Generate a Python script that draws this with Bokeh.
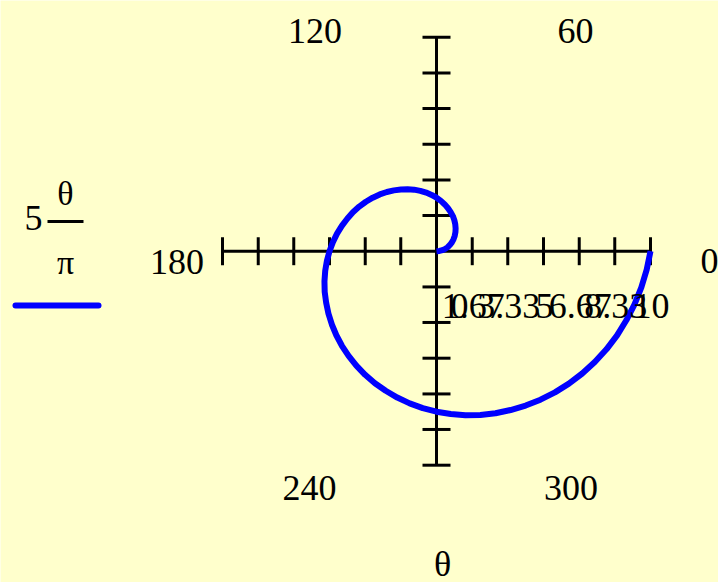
import math
from bokeh.plotting import figure
from bokeh.models import Range1d, ColumnDataSource
from bokeh.core.properties import value
from bokeh.embed import file_html
from bokeh.resources import INLINE

# ---- data: r = 5*theta/pi, theta 0..360 deg ----
theta_deg = list(range(0, 361, 5))
r_vals = [0.00, 0.14, 0.28, 0.42, 0.56, 0.69, 0.83, 0.97, 1.11, 1.25, 1.39, 1.53,
          1.67, 1.81, 1.94, 2.08, 2.22, 2.36, 2.50, 2.64, 2.78, 2.92, 3.06, 3.19,
          3.33, 3.47, 3.61, 3.75, 3.89, 4.03, 4.17, 4.31, 4.44, 4.58, 4.72, 4.86,
          5.00, 5.14, 5.28, 5.42, 5.56, 5.69, 5.83, 5.97, 6.11, 6.25, 6.39, 6.53,
          6.67, 6.81, 6.94, 7.08, 7.22, 7.36, 7.50, 7.64, 7.78, 7.92, 8.06, 8.19,
          8.33, 8.47, 8.61, 8.75, 8.89, 9.03, 9.17, 9.31, 9.44, 9.58, 9.72, 9.86,
          10.00]
r_ticks = [0, 1.67, 3.33, 5, 6.67, 8.33, 10]
r_tick_labels = ["0", "1.67", "3.33", "5", "6.67", "8.33", "10"]
angle_labels = ["0", "60", "120", "180", "240", "300"]
r_max = 10

# ---- layout ----
BG = "#FFFFCC"
W, H = 718, 582
CX, CY = 436.0, 250.7          # pixel of the origin
S = 21.4                       # pixels per radial unit


def px2x(px):
    return (px - CX) / S


def px2y(py):
    return (CY - py) / S


p = figure(width=W, height=H, output_backend="svg", toolbar_location=None,
           x_range=Range1d(px2x(0), px2x(W)),
           y_range=Range1d(px2y(H), px2y(0)),
           min_border=0, background_fill_color=BG, border_fill_color=BG,
           outline_line_color=None)
p.axis.visible = False
p.grid.visible = False

FONT = value("Liberation Serif")

# axes
p.segment(x0=[-r_max, 0], y0=[0, -r_max], x1=[r_max, 0], y1=[0, r_max],
          line_color="black", line_width=3, line_cap="butt")
half = 14 / S
tx0, ty0, tx1, ty1 = [], [], [], []
for r in r_ticks[1:]:
    for sgn in (-1, 1):
        tx0.append(sgn * r); ty0.append(-half); tx1.append(sgn * r); ty1.append(half)
        tx0.append(-half); ty0.append(sgn * r); tx1.append(half); ty1.append(sgn * r)
p.segment(x0=tx0, y0=ty0, x1=tx1, y1=ty1, line_color="black", line_width=3,
          line_cap="butt")

# spiral
xs = [r * math.cos(math.radians(t)) for t, r in zip(theta_deg, r_vals)]
ys = [r * math.sin(math.radians(t)) for t, r in zip(theta_deg, r_vals)]
p.line(xs, ys, line_color="#0000FF", line_width=6, line_join="round")

# angle labels
ang_pos = {"0": (709, 260), "60": (575, 30), "120": (314.5, 30),
           "180": (176.5, 261), "240": (309, 487), "300": (570.5, 487)}
p.text(x=[px2x(ang_pos[a][0]) for a in angle_labels],
       y=[px2y(ang_pos[a][1]) for a in angle_labels],
       text=angle_labels, text_font=FONT, text_font_size="36px",
       text_align="center", text_baseline="middle", text_color="black")

# radial labels (overlapping, centred on ticks)
xoff = [23] + [1] * (len(r_ticks) - 1)
src = ColumnDataSource(dict(x=r_ticks, y=[px2y(305)] * len(r_ticks),
                            text=r_tick_labels, xo=xoff))
p.text(x="x", y="y", text="text", x_offset="xo", source=src, text_font=FONT,
       text_font_size="36px", text_align="center", text_baseline="middle",
       text_color="black")

# axis title
p.text(x=[px2x(442)], y=[px2y(563)], text=["θ"], text_font=FONT,
       text_font_size="36px", text_align="center", text_baseline="middle",
       text_color="black")

# legend: 5 θ/π and line sample
p.text(x=[px2x(33)], y=[px2y(217)], text=["5"], text_font=FONT,
       text_font_size="36px", text_align="center", text_baseline="middle",
       text_color="black")
p.segment(x0=[px2x(47)], y0=[px2y(221)], x1=[px2x(83)], y1=[px2y(221)],
          line_color="black", line_width=3, line_cap="butt")
p.text(x=[px2x(65), px2x(65)], y=[px2y(193), px2y(262)], text=["θ", "π"],
       text_font=FONT, text_font_size="34px", text_align="center",
       text_baseline="middle", text_color="black")
p.segment(x0=[px2x(15)], y0=[px2y(305)], x1=[px2x(98)], y1=[px2y(305)],
          line_color="#0000FF", line_width=6, line_cap="round")

html = file_html(p, INLINE)
html = html.replace("<body>", '<body style="margin:0; background-color:#FFFFCC;">', 1)
open("out.html", "w").write(html)
